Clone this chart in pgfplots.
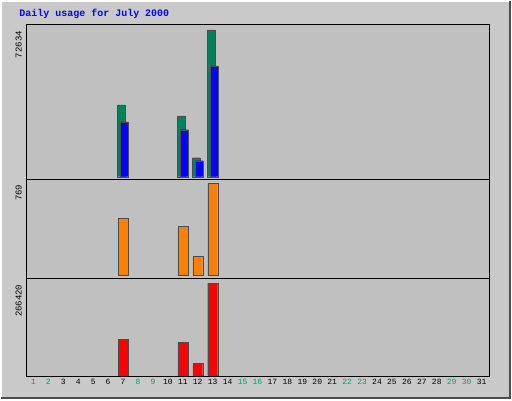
\documentclass[border=0pt]{standalone}
\usepackage{pgfplots}
\pgfplotsset{compat=1.18}
\usepackage{fontspec}
\setmonofont{Liberation Mono}
\definecolor{bg}{HTML}{C0C0C0}
\definecolor{hits}{HTML}{00805C}
\definecolor{files}{HTML}{0000FF}
\definecolor{sites}{HTML}{FF8000}
\definecolor{kb}{HTML}{FF0000}
\definecolor{wk}{HTML}{00A060}
\pgfplotsset{panel/.style={scale only axis, width=464pt, xmin=0.5, xmax=31.5,
  axis background/.style={fill=bg}, xtick=\empty, major tick length=0pt,
  scaled y ticks=false,
  axis line style={black, line width=0.6pt}, ybar, bar width=8pt,
  /pgf/number format/assume math mode=true,
  yticklabel style={rotate=90, anchor=south east, font=\ttfamily\small, inner sep=1pt, yshift=3pt},
  every axis plot/.append style={draw=black!70, line width=0.3pt}}}
\begin{document}
\begin{tikzpicture}[x=1pt,y=1pt]
\fill[bg!85!white] (0,0) rectangle (512,400);
\draw[white, line width=2pt] (1,0)--(1,399)--(512,399);
\draw[gray!60!black, line width=2pt] (1,1)--(511,1)--(511,399);
\node[anchor=west, text=blue, font=\ttfamily\bfseries] at (16,386) {Daily usage for July 2000};
\begin{axis}[panel, at={(26pt,220pt)}, anchor=south west, height=156pt,
  ymin=-1482, ymax=75599, ytick={72634}, yticklabels={72634}]
\addplot[fill=hits, bar shift=-1.5pt] coordinates {(7,35575) (11,30140) (12,9388) (13,72634)};
\addplot[fill=files, bar shift=1.5pt] coordinates {(7,27176) (11,23223) (12,7906) (13,54847)};
\end{axis}
\begin{axis}[panel, at={(26pt,121pt)}, anchor=south west, height=99pt,
  ymin=-25, ymax=802, ytick={769}, yticklabels={769}, bar width=10pt]
\addplot[fill=sites] coordinates {(7,476) (11,410) (12,159) (13,769)};
\end{axis}
\begin{axis}[panel, at={(26pt,23pt)}, anchor=south west, height=98pt,
  ymin=-2896, ymax=280900, ytick={266420}, yticklabels={266420}, bar width=10pt,
  xtick={1,...,31},
  xticklabels={\textcolor{wk}{1},\textcolor{wk}{2},3,4,5,6,7,\textcolor{wk}{8},\textcolor{wk}{9},10,11,12,13,14,\textcolor{wk}{15},\textcolor{wk}{16},17,18,19,20,21,\textcolor{wk}{22},\textcolor{wk}{23},24,25,26,27,28,\textcolor{wk}{29},\textcolor{wk}{30},31},
  xticklabel style={font=\ttfamily\footnotesize, inner sep=1pt, yshift=-2pt}]
\addplot[fill=kb] coordinates {(7,104250) (11,95560) (12,34750) (13,266420)};
\end{axis}
\end{tikzpicture}
\end{document}
